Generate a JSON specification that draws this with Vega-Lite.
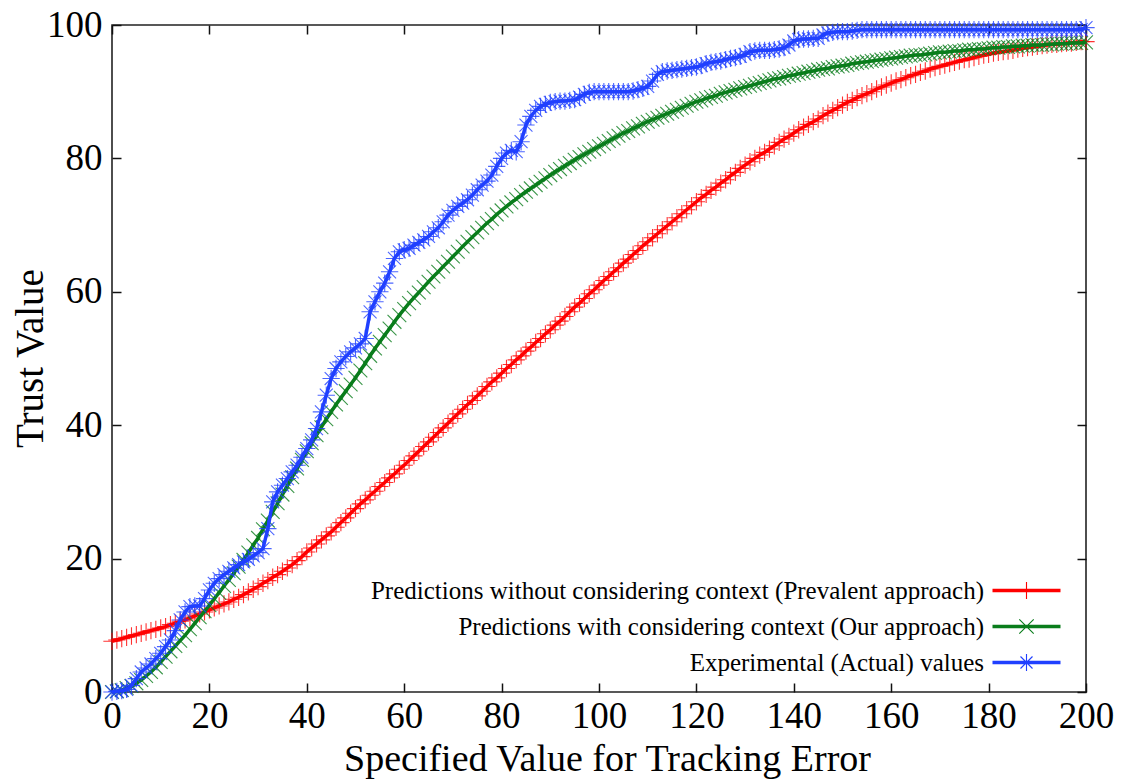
{
  "$schema": "https://vega.github.io/schema/vega-lite/v6.json",
  "width": 974,
  "height": 667,
  "autosize": {"type": "none"},
  "padding": {"left": 112, "top": 25, "right": 38, "bottom": 88},
  "background": "#ffffff",
  "config": {
    "font": "Liberation Serif",
    "view": {"stroke": "#222222", "strokeWidth": 1.6}
  },
  "data": {"values": [
    {"x":0,"r":7.6,"g":0.0,"b":0.0},{"x":1,"r":7.8,"g":0.1,"b":0.1},{"x":2,"r":8.0,"g":0.3,"b":0.2},{"x":3,"r":8.2,"g":0.6,"b":0.4},{"x":4,"r":8.4,"g":0.9,"b":1.0},
    {"x":5,"r":8.6,"g":1.3,"b":2.0},{"x":6,"r":8.8,"g":1.8,"b":3.0},{"x":7,"r":9.0,"g":2.4,"b":3.6},{"x":8,"r":9.2,"g":3.0,"b":4.2},{"x":9,"r":9.4,"g":3.7,"b":5.0},
    {"x":10,"r":9.6,"g":4.5,"b":5.8},{"x":11,"r":9.8,"g":5.3,"b":6.8},{"x":12,"r":10.1,"g":6.1,"b":7.8},{"x":13,"r":10.3,"g":6.9,"b":9.2},{"x":14,"r":10.6,"g":7.7,"b":10.8},
    {"x":15,"r":10.8,"g":8.5,"b":12.0},{"x":16,"r":11.1,"g":9.4,"b":12.8},{"x":17,"r":11.4,"g":10.3,"b":12.9},{"x":18,"r":11.7,"g":11.2,"b":12.9},{"x":19,"r":12.0,"g":12.1,"b":14.0},
    {"x":20,"r":12.3,"g":13.0,"b":15.3},{"x":21,"r":12.6,"g":14.0,"b":16.3},{"x":22,"r":12.9,"g":14.9,"b":17.0},{"x":23,"r":13.2,"g":15.9,"b":17.6},{"x":24,"r":13.5,"g":16.8,"b":18.1},
    {"x":25,"r":13.9,"g":17.8,"b":18.6},{"x":26,"r":14.2,"g":18.8,"b":19.1},{"x":27,"r":14.6,"g":19.8,"b":19.5},{"x":28,"r":15.0,"g":20.9,"b":19.9},{"x":29,"r":15.4,"g":22.0,"b":20.4},
    {"x":30,"r":15.8,"g":23.1,"b":20.9},{"x":31,"r":16.3,"g":24.4,"b":21.5},{"x":32,"r":16.7,"g":25.7,"b":24.5},{"x":33,"r":17.2,"g":27.0,"b":28.5},{"x":34,"r":17.6,"g":28.3,"b":30.0},
    {"x":35,"r":18.1,"g":29.6,"b":31.0},{"x":36,"r":18.6,"g":30.9,"b":32.0},{"x":37,"r":19.1,"g":32.2,"b":33.0},{"x":38,"r":19.7,"g":33.5,"b":34.0},{"x":39,"r":20.3,"g":34.8,"b":35.2},
    {"x":40,"r":21.0,"g":36.1,"b":36.5},{"x":41,"r":21.6,"g":37.3,"b":37.8},{"x":42,"r":22.2,"g":38.5,"b":39.5},{"x":43,"r":22.8,"g":39.7,"b":42.0},{"x":44,"r":23.4,"g":40.9,"b":44.5},
    {"x":45,"r":24.0,"g":42.0,"b":47.0},{"x":46,"r":24.7,"g":43.1,"b":48.5},{"x":47,"r":25.4,"g":44.1,"b":49.5},{"x":48,"r":26.1,"g":45.1,"b":50.3},{"x":49,"r":26.8,"g":46.1,"b":51.0},
    {"x":50,"r":27.5,"g":47.1,"b":51.6},{"x":51,"r":28.2,"g":48.2,"b":52.2},{"x":52,"r":28.8,"g":49.3,"b":53.0},{"x":53,"r":29.5,"g":50.4,"b":57.0},{"x":54,"r":30.1,"g":51.5,"b":58.5},
    {"x":55,"r":30.8,"g":52.5,"b":60.0},{"x":56,"r":31.4,"g":53.5,"b":61.3},{"x":57,"r":32.1,"g":54.5,"b":63.0},{"x":58,"r":32.7,"g":55.5,"b":65.0},{"x":59,"r":33.4,"g":56.5,"b":66.0},
    {"x":60,"r":34.0,"g":57.4,"b":66.3},{"x":61,"r":34.7,"g":58.3,"b":66.5},{"x":62,"r":35.4,"g":59.1,"b":67.0},{"x":63,"r":36.1,"g":59.9,"b":67.4},{"x":64,"r":36.8,"g":60.7,"b":67.8},
    {"x":65,"r":37.5,"g":61.5,"b":68.3},{"x":66,"r":38.2,"g":62.3,"b":69.0},{"x":67,"r":38.9,"g":63.0,"b":69.6},{"x":68,"r":39.6,"g":63.8,"b":70.5},{"x":69,"r":40.3,"g":64.5,"b":71.5},
    {"x":70,"r":41.0,"g":65.3,"b":72.2},{"x":71,"r":41.7,"g":66.0,"b":72.8},{"x":72,"r":42.4,"g":66.8,"b":73.3},{"x":73,"r":43.1,"g":67.5,"b":73.8},{"x":74,"r":43.7,"g":68.2,"b":74.5},
    {"x":75,"r":44.4,"g":68.9,"b":75.3},{"x":76,"r":45.1,"g":69.6,"b":76.0},{"x":77,"r":45.8,"g":70.3,"b":76.6},{"x":78,"r":46.5,"g":70.9,"b":77.5},{"x":79,"r":47.1,"g":71.6,"b":78.8},
    {"x":80,"r":47.8,"g":72.2,"b":80.0},{"x":81,"r":48.5,"g":72.8,"b":80.8},{"x":82,"r":49.1,"g":73.4,"b":81.2},{"x":83,"r":49.8,"g":73.9,"b":81.0},{"x":84,"r":50.4,"g":74.5,"b":82.5},
    {"x":85,"r":51.1,"g":75.0,"b":85.0},{"x":86,"r":51.7,"g":75.5,"b":86.3},{"x":87,"r":52.4,"g":76.0,"b":87.2},{"x":88,"r":53.0,"g":76.5,"b":87.8},{"x":89,"r":53.7,"g":77.0,"b":88.1},
    {"x":90,"r":54.3,"g":77.5,"b":88.4},{"x":91,"r":55.0,"g":78.0,"b":88.5},{"x":92,"r":55.6,"g":78.4,"b":88.6},{"x":93,"r":56.3,"g":78.9,"b":88.6},{"x":94,"r":57.0,"g":79.3,"b":88.7},
    {"x":95,"r":57.7,"g":79.8,"b":88.8},{"x":96,"r":58.3,"g":80.2,"b":89.2},{"x":97,"r":59.0,"g":80.6,"b":89.6},{"x":98,"r":59.7,"g":81.0,"b":89.9},{"x":99,"r":60.3,"g":81.4,"b":90.0},
    {"x":100,"r":61.0,"g":81.8,"b":90.0},{"x":101,"r":61.7,"g":82.2,"b":90.0},{"x":102,"r":62.3,"g":82.6,"b":90.0},{"x":103,"r":63.0,"g":83.0,"b":90.0},{"x":104,"r":63.6,"g":83.4,"b":90.0},
    {"x":105,"r":64.3,"g":83.8,"b":90.0},{"x":106,"r":64.9,"g":84.1,"b":90.0},{"x":107,"r":65.6,"g":84.5,"b":90.1},{"x":108,"r":66.2,"g":84.8,"b":90.3},{"x":109,"r":66.9,"g":85.2,"b":90.5},
    {"x":110,"r":67.5,"g":85.5,"b":90.8},{"x":111,"r":68.1,"g":85.8,"b":91.6},{"x":112,"r":68.7,"g":86.1,"b":92.6},{"x":113,"r":69.3,"g":86.4,"b":93.0},{"x":114,"r":69.9,"g":86.7,"b":93.1},
    {"x":115,"r":70.5,"g":87.0,"b":93.2},{"x":116,"r":71.1,"g":87.3,"b":93.3},{"x":117,"r":71.7,"g":87.6,"b":93.4},{"x":118,"r":72.3,"g":87.9,"b":93.5},{"x":119,"r":72.9,"g":88.2,"b":93.6},
    {"x":120,"r":73.5,"g":88.5,"b":93.7},{"x":121,"r":74.1,"g":88.7,"b":93.9},{"x":122,"r":74.6,"g":89.0,"b":94.2},{"x":123,"r":75.2,"g":89.2,"b":94.4},{"x":124,"r":75.7,"g":89.4,"b":94.5},
    {"x":125,"r":76.3,"g":89.7,"b":94.6},{"x":126,"r":76.8,"g":89.9,"b":94.8},{"x":127,"r":77.4,"g":90.1,"b":95.0},{"x":128,"r":77.9,"g":90.3,"b":95.1},{"x":129,"r":78.5,"g":90.5,"b":95.3},
    {"x":130,"r":79.0,"g":90.7,"b":95.6},{"x":131,"r":79.5,"g":90.9,"b":96.0},{"x":132,"r":80.0,"g":91.1,"b":96.1},{"x":133,"r":80.5,"g":91.3,"b":96.2},{"x":134,"r":80.9,"g":91.5,"b":96.2},
    {"x":135,"r":81.4,"g":91.7,"b":96.2},{"x":136,"r":81.9,"g":91.9,"b":96.3},{"x":137,"r":82.4,"g":92.0,"b":96.4},{"x":138,"r":82.9,"g":92.2,"b":96.6},{"x":139,"r":83.3,"g":92.4,"b":97.0},
    {"x":140,"r":83.8,"g":92.5,"b":97.6},{"x":141,"r":84.3,"g":92.7,"b":97.8},{"x":142,"r":84.7,"g":92.8,"b":97.9},{"x":143,"r":85.1,"g":93.0,"b":97.9},{"x":144,"r":85.5,"g":93.1,"b":98.0},
    {"x":145,"r":85.9,"g":93.3,"b":98.0},{"x":146,"r":86.4,"g":93.4,"b":98.5},{"x":147,"r":86.8,"g":93.5,"b":98.8},{"x":148,"r":87.2,"g":93.7,"b":98.9},{"x":149,"r":87.6,"g":93.8,"b":99.0},
    {"x":150,"r":88.0,"g":93.9,"b":99.0},{"x":151,"r":88.4,"g":94.0,"b":99.0},{"x":152,"r":88.7,"g":94.2,"b":99.1},{"x":153,"r":89.1,"g":94.3,"b":99.2},{"x":154,"r":89.4,"g":94.4,"b":99.3},
    {"x":155,"r":89.7,"g":94.5,"b":99.3},{"x":156,"r":90.0,"g":94.6,"b":99.3},{"x":157,"r":90.4,"g":94.7,"b":99.3},{"x":158,"r":90.7,"g":94.8,"b":99.3},{"x":159,"r":91.0,"g":94.9,"b":99.3},
    {"x":160,"r":91.3,"g":95.0,"b":99.3},{"x":161,"r":91.6,"g":95.1,"b":99.3},{"x":162,"r":91.8,"g":95.2,"b":99.3},{"x":163,"r":92.1,"g":95.3,"b":99.3},{"x":164,"r":92.4,"g":95.4,"b":99.3},
    {"x":165,"r":92.6,"g":95.5,"b":99.3},{"x":166,"r":92.9,"g":95.5,"b":99.3},{"x":167,"r":93.1,"g":95.6,"b":99.3},{"x":168,"r":93.4,"g":95.7,"b":99.3},{"x":169,"r":93.6,"g":95.8,"b":99.3},
    {"x":170,"r":93.8,"g":95.9,"b":99.3},{"x":171,"r":94.0,"g":95.9,"b":99.3},{"x":172,"r":94.2,"g":96.0,"b":99.3},{"x":173,"r":94.4,"g":96.1,"b":99.3},{"x":174,"r":94.6,"g":96.1,"b":99.3},
    {"x":175,"r":94.8,"g":96.2,"b":99.3},{"x":176,"r":94.9,"g":96.3,"b":99.3},{"x":177,"r":95.1,"g":96.3,"b":99.3},{"x":178,"r":95.3,"g":96.4,"b":99.3},{"x":179,"r":95.5,"g":96.4,"b":99.3},
    {"x":180,"r":95.6,"g":96.5,"b":99.3},{"x":181,"r":95.8,"g":96.6,"b":99.3},{"x":182,"r":95.9,"g":96.6,"b":99.3},{"x":183,"r":96.0,"g":96.7,"b":99.3},{"x":184,"r":96.1,"g":96.7,"b":99.3},
    {"x":185,"r":96.2,"g":96.8,"b":99.3},{"x":186,"r":96.4,"g":96.8,"b":99.3},{"x":187,"r":96.5,"g":96.9,"b":99.3},{"x":188,"r":96.6,"g":96.9,"b":99.3},{"x":189,"r":96.7,"g":97.0,"b":99.3},
    {"x":190,"r":96.8,"g":97.0,"b":99.3},{"x":191,"r":96.9,"g":97.0,"b":99.3},{"x":192,"r":97.0,"g":97.1,"b":99.3},{"x":193,"r":97.1,"g":97.1,"b":99.3},{"x":194,"r":97.1,"g":97.2,"b":99.3},
    {"x":195,"r":97.2,"g":97.2,"b":99.3},{"x":196,"r":97.3,"g":97.2,"b":99.3},{"x":197,"r":97.3,"g":97.3,"b":99.3},{"x":198,"r":97.4,"g":97.3,"b":99.3},{"x":199,"r":97.5,"g":97.3,"b":99.3},
    {"x":200,"r":97.5,"g":97.4,"b":99.6}
  ]},
  "transform": [{"fold": ["r", "g", "b"], "as": ["series", "trust"]}],
  "encoding": {
    "x": {"field": "x", "type": "quantitative", "scale": {"domain": [0, 200], "nice": false, "zero": false}, "axis": null},
    "y": {"field": "trust", "type": "quantitative", "scale": {"domain": [0, 100], "nice": false}, "axis": null},
    "color": {
      "field": "series",
      "type": "nominal",
      "scale": {"domain": ["r", "g", "b"], "range": ["#ff0000", "#0a7d1c", "#2040ff"]},
      "legend": {
        "title": null,
        "orient": "none",
        "legendX": 902,
        "legendY": 553,
        "direction": "vertical",
        "padding": 0,
        "labelFont": "Liberation Serif",
        "labelFontSize": 25,
        "labelColor": "#000000",
        "labelLimit": 1000,
        "labelAlign": "right",
        "labelOffset": -55,
        "symbolSize": 256,
        "rowPadding": 10,
        "labelExpr": "datum.value === 'r' ? 'Predictions without considering context (Prevalent approach)' : datum.value === 'g' ? 'Predictions with considering context (Our approach)' : 'Experimental (Actual) values'",
        "encode": {
          "symbols": {
            "update": {
              "shape": {"signal": "datum.value === 'r' ? 'M-4.25,-0.22H4.25V0.22H-4.25ZM-0.07,-1.05H0.07V1.05H-0.07Z' : datum.value === 'g' ? 'M-4.25,-0.22H4.25V0.22H-4.25ZM-0.95,-0.85L-0.85,-0.95L0.95,0.85L0.85,0.95ZM-0.95,0.85L0.85,-0.95L0.95,-0.85L-0.85,0.95Z' : 'M-4.25,-0.22H4.25V0.22H-4.25ZM-0.07,-1.05H0.07V1.05H-0.07ZM-0.8,-0.7L-0.7,-0.8L0.8,0.7L0.7,0.8ZM-0.8,0.7L0.7,-0.8L0.8,-0.7L-0.7,0.8Z'"},
              "fill": {"signal": "datum.value === 'r' ? '#ff0000' : datum.value === 'g' ? '#0a7d1c' : '#2040ff'"},
              "stroke": {"value": "transparent"},
              "strokeWidth": {"value": 0},
              "size": {"value": 256},
              "opacity": {"value": 1}
            }
          }
        }
      }
    }
  },
  "resolve": {"axis": {"x": "independent", "y": "independent"}},
  "layer": [
    {
      "transform": [{"filter": "datum.series === 'r'"}],
      "mark": {"type": "line", "strokeWidth": 3.5},
      "encoding": {
        "x": {"field": "x", "type": "quantitative", "axis": {
          "orient": "bottom", "values": [0, 20, 40, 60, 80, 100, 120, 140, 160, 180, 200],
          "domain": false, "grid": false, "tickSize": -9, "tickColor": "#111111", "tickWidth": 1.5,
          "labelFlush": false, "labelOverlap": false, "labelFont": "Liberation Serif", "labelFontSize": 37,
          "labelColor": "#000000", "labelPadding": 15,
          "title": "Specified Value for Tracking Error", "titleFont": "Liberation Serif", "titleFontSize": 38,
          "titleFontWeight": "normal", "titleColor": "#000000", "titleX": 495, "titleY": 78,
          "titleBaseline": "alphabetic", "titleAlign": "center"
        }},
        "y": {"field": "trust", "type": "quantitative", "axis": {
          "orient": "left", "values": [0, 20, 40, 60, 80, 100],
          "domain": false, "grid": false, "tickSize": -9, "tickColor": "#111111", "tickWidth": 1.5,
          "labelFlush": false, "labelOverlap": false, "labelFont": "Liberation Serif", "labelFontSize": 37,
          "labelColor": "#000000", "labelPadding": 19,
          "title": "Trust Value", "titleFont": "Liberation Serif", "titleFontSize": 39,
          "titleFontWeight": "normal", "titleColor": "#000000", "titleX": -70, "titleY": 333,
          "titleBaseline": "alphabetic", "titleAlign": "center", "titleAngle": -90
        }}
      }
    },
    {
      "transform": [{"filter": "datum.series === 'r'"}],
      "mark": {"type": "point", "shape": "M-1,0H1M0,-1V1", "filled": false, "size": 300, "strokeWidth": 1.1, "opacity": 0.8},
      "encoding": {
        "x": {"field": "x", "type": "quantitative", "axis": {
          "orient": "top", "values": [0, 20, 40, 60, 80, 100, 120, 140, 160, 180, 200],
          "domain": false, "grid": false, "labels": false, "title": null,
          "tickSize": -9, "tickColor": "#111111", "tickWidth": 1.5
        }},
        "y": {"field": "trust", "type": "quantitative", "axis": {
          "orient": "right", "values": [0, 20, 40, 60, 80, 100],
          "domain": false, "grid": false, "labels": false, "title": null,
          "tickSize": -9, "tickColor": "#111111", "tickWidth": 1.5
        }}
      }
    },
    {
      "transform": [{"filter": "datum.series === 'g'"}],
      "mark": {"type": "line", "strokeWidth": 3.5}
    },
    {
      "transform": [{"filter": "datum.series === 'g'"}],
      "mark": {"type": "point", "shape": "M-0.8,-0.8L0.8,0.8M-0.8,0.8L0.8,-0.8", "filled": false, "size": 300, "strokeWidth": 1.1, "opacity": 0.8}
    },
    {
      "transform": [{"filter": "datum.series === 'b'"}],
      "mark": {"type": "line", "strokeWidth": 3.5}
    },
    {
      "transform": [{"filter": "datum.series === 'b'"}],
      "mark": {"type": "point", "shape": "M-1,0H1M0,-1V1M-0.75,-0.75L0.75,0.75M-0.75,0.75L0.75,-0.75", "filled": false, "size": 300, "strokeWidth": 1.1, "opacity": 0.8}
    }
  ]
}
